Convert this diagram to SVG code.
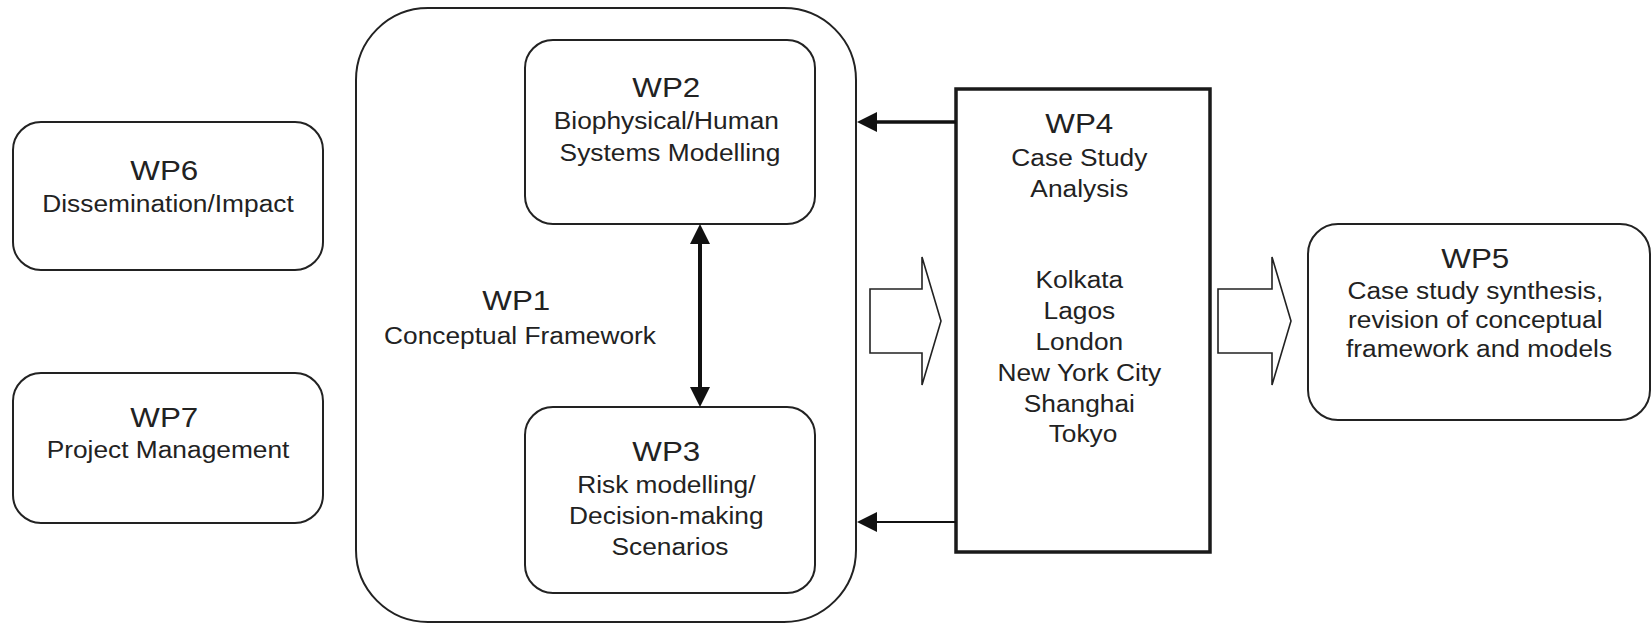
<svg xmlns="http://www.w3.org/2000/svg" width="1652" height="623" viewBox="0 0 1652 623">
  <style>
    .box { fill: #ffffff; stroke: #222222; stroke-width: 2; }
    .sq { fill: #ffffff; stroke: #1a1a1a; stroke-width: 3.5; }
    .block { fill: #ffffff; stroke: #222222; stroke-width: 1.6; stroke-linejoin: miter; }
    .lbl { font-family: "Liberation Sans", Arial, sans-serif; font-size: 23.5px; fill: #222222; text-anchor: middle; }
    .ttl { font-size: 28px; }
    .link { fill: none; stroke: #111111; }
  </style>
  <defs>
    <marker id="head" viewBox="0 0 20 20" refX="10" refY="10" markerWidth="20" markerHeight="20" markerUnits="userSpaceOnUse" orient="auto-start-reverse">
      <path d="M0,0 L20,10 L0,20 Z" fill="#111111"/>
    </marker>
  </defs>

  <rect width="1652" height="623" fill="#ffffff"/>

  <!-- WP1 container -->
  <g id="wp1">
    <rect class="box" x="356" y="8" width="500" height="614" rx="72" ry="72"/>
    <text class="lbl" transform="translate(520 0) scale(1.12 1)">
      <tspan class="ttl" x="0" y="310">WP1</tspan>
      <tspan x="0" y="344">Conceptual Framework</tspan>
    </text>
  </g>

  <!-- WP6 -->
  <g id="wp6">
    <rect class="box" x="13" y="122" width="310" height="148" rx="28" ry="28"/>
    <text class="lbl" transform="translate(168 0) scale(1.12 1)">
      <tspan class="ttl" x="0" y="180">WP6</tspan>
      <tspan x="0" y="212">Dissemination/Impact</tspan>
    </text>
  </g>

  <!-- WP7 -->
  <g id="wp7">
    <rect class="box" x="13" y="373" width="310" height="150" rx="28" ry="28"/>
    <text class="lbl" transform="translate(168 0) scale(1.12 1)">
      <tspan class="ttl" x="0" y="427">WP7</tspan>
      <tspan x="0" y="458">Project Management</tspan>
    </text>
  </g>

  <!-- WP2 -->
  <g id="wp2">
    <rect class="box" x="525" y="40" width="290" height="184" rx="28" ry="28"/>
    <text class="lbl" transform="translate(670 0) scale(1.12 1)">
      <tspan class="ttl" x="0" y="97">WP2</tspan>
      <tspan x="0" y="129">Biophysical/Human</tspan>
      <tspan x="0" y="161">Systems Modelling</tspan>
    </text>
  </g>

  <!-- WP3 -->
  <g id="wp3">
    <rect class="box" x="525" y="407" width="290" height="186" rx="28" ry="28"/>
    <text class="lbl" transform="translate(670 0) scale(1.12 1)">
      <tspan class="ttl" x="0" y="461">WP3</tspan>
      <tspan x="0" y="493">Risk modelling/</tspan>
      <tspan x="0" y="524">Decision-making</tspan>
      <tspan x="0" y="555">Scenarios</tspan>
    </text>
  </g>

  <!-- WP4 -->
  <g id="wp4">
    <rect class="sq" x="956" y="89" width="254" height="463"/>
    <text class="lbl" transform="translate(1083 0) scale(1.12 1)">
      <tspan class="ttl" x="0" y="133">WP4</tspan>
      <tspan x="0" y="166">Case Study</tspan>
      <tspan x="0" y="197">Analysis</tspan>
      <tspan x="0" y="288">Kolkata</tspan>
      <tspan x="0" y="319">Lagos</tspan>
      <tspan x="0" y="350">London</tspan>
      <tspan x="0" y="381">New York City</tspan>
      <tspan x="0" y="412">Shanghai</tspan>
      <tspan x="0" y="442">Tokyo</tspan>
    </text>
  </g>

  <!-- WP5 -->
  <g id="wp5">
    <rect class="box" x="1308" y="224" width="342" height="196" rx="30" ry="30"/>
    <text class="lbl" transform="translate(1479 0) scale(1.12 1)">
      <tspan class="ttl" x="0" y="268">WP5</tspan>
      <tspan x="0" y="299">Case study synthesis,</tspan>
      <tspan x="0" y="328">revision of conceptual</tspan>
      <tspan x="0" y="357">framework and models</tspan>
    </text>
  </g>

  <!-- connectors -->
  <g id="connectors">
    <line class="link" x1="700" y1="234" x2="700" y2="397" stroke-width="4" marker-start="url(#head)" marker-end="url(#head)"/>
    <line class="link" x1="956" y1="122" x2="867" y2="122" stroke-width="3.5" marker-end="url(#head)"/>
    <line class="link" x1="956" y1="522" x2="867" y2="522" stroke-width="2" marker-end="url(#head)"/>
    <path class="block" d="M870,289 H922 V257 L941,321 L922,385 V353 H870 Z"/>
    <path class="block" d="M1218,289 H1272 V257 L1291,321 L1272,385 V353 H1218 Z"/>
  </g>
</svg>
